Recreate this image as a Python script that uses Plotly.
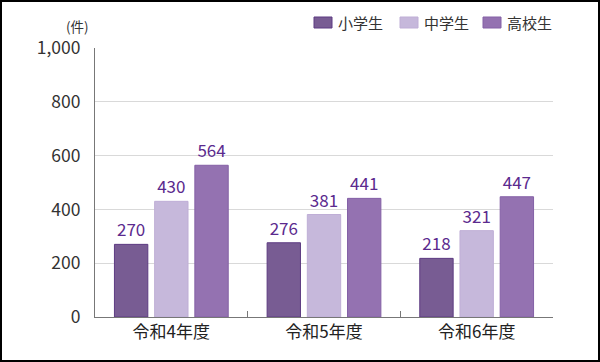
import plotly.graph_objects as go

categories = ["令和4年度", "令和5年度", "令和6年度"]
series_names = ["小学生", "中学生", "高校生"]
elementary = [270, 276, 218]
junior_high = [430, 381, 321]
high_school = [564, 441, 447]
y_ticks = [0, 200, 400, 600, 800, 1000]
y_tick_labels = ["0", "200", "400", "600", "800", "1,000"]

fills = ["#785c93", "#c6b8db", "#9472b1"]
lines = ["#5d3b82", "#bfaed6", "#8460a6"]
label_color = "#5b2a8e"
font_family = "Noto Sans CJK JP, Noto Sans, sans-serif"

W, H = 600, 362
ml, mr, mt, mb = 95, 47, 48, 45
pw, ph = W - ml - mr, H - mt - mb

def px_x(p):
    return (p - ml) / pw

def px_y(p):
    return (H - mb - p) / ph

fig = go.Figure()
for name, vals, fc, lc in zip(series_names, [elementary, junior_high, high_school], fills, lines):
    fig.add_trace(go.Bar(
        name=name, x=categories, y=vals,
        marker=dict(color=fc, line=dict(color=lc, width=1)),
        text=[str(v) for v in vals], textposition="outside",
        textfont=dict(color=label_color, size=17, family=font_family),
        cliponaxis=False, showlegend=False, hoverinfo="skip",
    ))

# legend drawn as key boxes + text
legend_x = [314, 400, 483]
for name, fc, lc, lx in zip(series_names, fills, lines, legend_x):
    fig.add_shape(type="rect", xref="paper", yref="paper",
                  x0=px_x(lx), x1=px_x(lx + 18), y0=px_y(28), y1=px_y(17),
                  line=dict(color=lc, width=1), fillcolor=fc)
    fig.add_annotation(text=name, xref="paper", yref="paper",
                       x=px_x(lx + 22), y=px_y(22.5), xanchor="left", yanchor="middle",
                       showarrow=False, font=dict(size=15, color="#333333", family=font_family))

# outer frame
fig.add_shape(type="rect", xref="paper", yref="paper",
              x0=px_x(1), x1=px_x(W - 1), y0=px_y(H - 1), y1=px_y(1),
              line=dict(color="#000000", width=2), fillcolor="rgba(0,0,0,0)", layer="above")

fig.add_annotation(text="(件)", xref="paper", yref="paper",
                   x=px_x(91), y=px_y(26), xanchor="right", yanchor="middle",
                   showarrow=False, font=dict(size=13.5, color="#333333", family=font_family))

fig.update_layout(
    width=W, height=H,
    margin=dict(l=ml, r=mr, t=mt, b=mb, autoexpand=False),
    paper_bgcolor="white", plot_bgcolor="white",
    barmode="group", bargap=0.21, bargroupgap=0.17,
    font=dict(family=font_family, color="#333333"),
    showlegend=False,
    yaxis=dict(range=[0, 1000], tickvals=y_ticks, ticktext=y_tick_labels,
               showgrid=True, gridcolor="#d9d9d9", gridwidth=1,
               showline=True, linecolor="#777777", linewidth=1,
               ticks="", ticklabelstandoff=10,
               tickfont=dict(size=17.5, color="#333333", family=font_family),
               zeroline=False, fixedrange=True),
    xaxis=dict(showline=True, linecolor="#777777", linewidth=1,
               ticks="inside", tickson="boundaries", ticklen=6, tickcolor="#777777",
               tickfont=dict(size=17, color="#222222", family=font_family),
               fixedrange=True),
)

fig.write_html("out.html", config={"displayModeBar": False, "staticPlot": True})

with open("out.html", "r", encoding="utf-8") as f:
    html = f.read()
html = html.replace("<head>", "<head><style>html,body{margin:0;padding:0;overflow:hidden;}</style>", 1)
with open("out.html", "w", encoding="utf-8") as f:
    f.write(html)
